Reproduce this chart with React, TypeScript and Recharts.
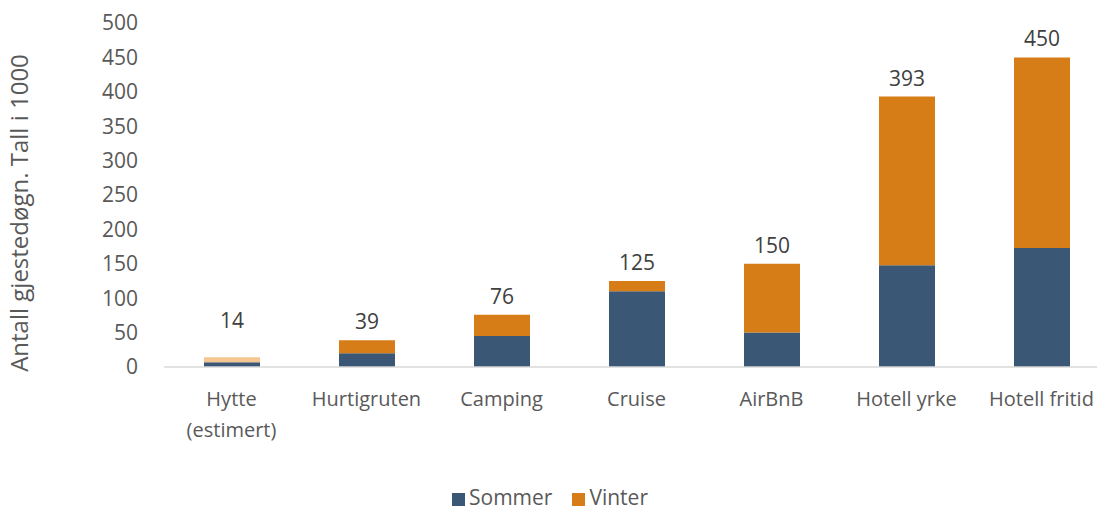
import { BarChart, Bar, XAxis, YAxis, Legend, Cell } from "recharts";

const categories = ["Hytte\n(estimert)", "Hurtigruten", "Camping", "Cruise", "AirBnB", "Hotell yrke", "Hotell fritid"];
const sommer = [7, 20, 45, 110, 50, 148, 173];
const vinter = [7, 19, 31, 15, 100, 245, 277];
const totals = [14, 39, 76, 125, 150, 393, 450];
const yTicks = [0, 50, 100, 150, 200, 250, 300, 350, 400, 450, 500];

const data = categories.map((name, i) => ({
  name,
  sommer: sommer[i],
  vinter: vinter[i],
  total: totals[i],
}));

const FONT = "'Open Sans', 'Liberation Sans', sans-serif";
const GREY = "#595959";

const CategoryTick = ({ x, y, payload }: any) => {
  const lines = String(payload.value).split("\n");
  return (
    <text x={x} y={y} textAnchor="middle" fill={GREY} fontSize={20} fontFamily={FONT}>
      {lines.map((l, i) => (
        <tspan key={i} x={x} dy={31}>{l}</tspan>
      ))}
    </text>
  );
};

// small bars get their label lifted a bit more, like the original
const TotalLabel = ({ x, y, width, height, index }: any) => (
  <text x={x + width / 2} y={y - 11 - (height < 10 ? 18 : 0)} textAnchor="middle" fill="#404040" fontSize={21} fontFamily={FONT}>
    {totals[index]}
  </text>
);

export default function App() {
  return (
    <div style={{ position: "absolute", left: 0, top: 0, width: 1097, height: 513, overflow: "hidden", background: "#fff" }}>
      <BarChart width={1120} height={513} data={data} barSize={56} margin={{ top: 23, right: 11, left: 0, bottom: 0 }}>
        <XAxis
          dataKey="name"
          interval={0}
          tick={<CategoryTick />}
          tickLine={false}
          axisLine={{ stroke: "#d9d9d9", strokeWidth: 1.5 }}
          height={124}
        />
        <YAxis
          ticks={yTicks}
          domain={[0, 500]}
          width={164}
          axisLine={false}
          tickLine={false}
          tickMargin={20}
          tick={{ fill: GREY, fontSize: 21, fontFamily: FONT }}
          label={{
            value: "Antall gjestedøgn. Tall i  1000",
            angle: -90,
            position: "insideLeft",
            dx: 14,
            dy: 18,
            style: { textAnchor: "middle", fill: GREY, fontSize: 24, fontFamily: FONT, whiteSpace: "pre" },
          }}
        />
        <Legend
          verticalAlign="bottom"
          align="left"
          iconType="square"
          iconSize={13}
          wrapperStyle={{ left: 452, width: 320, bottom: 5, fontFamily: FONT, fontSize: 21, lineHeight: "22px" }}
          formatter={(v: string) => <span style={{ color: GREY, paddingRight: 10 }}>{v}</span>}
        />
        <Bar dataKey="sommer" name="Sommer" stackId="a" fill="#3a5775" isAnimationActive={false} />
        <Bar dataKey="vinter" name="Vinter" stackId="a" fill="#d67d18" isAnimationActive={false} label={<TotalLabel />}>
          {data.map((_, i) => (
            <Cell key={i} fill={i === 0 ? "#f5c690" : "#d67d18"} />
          ))}
        </Bar>
      </BarChart>
    </div>
  );
}
